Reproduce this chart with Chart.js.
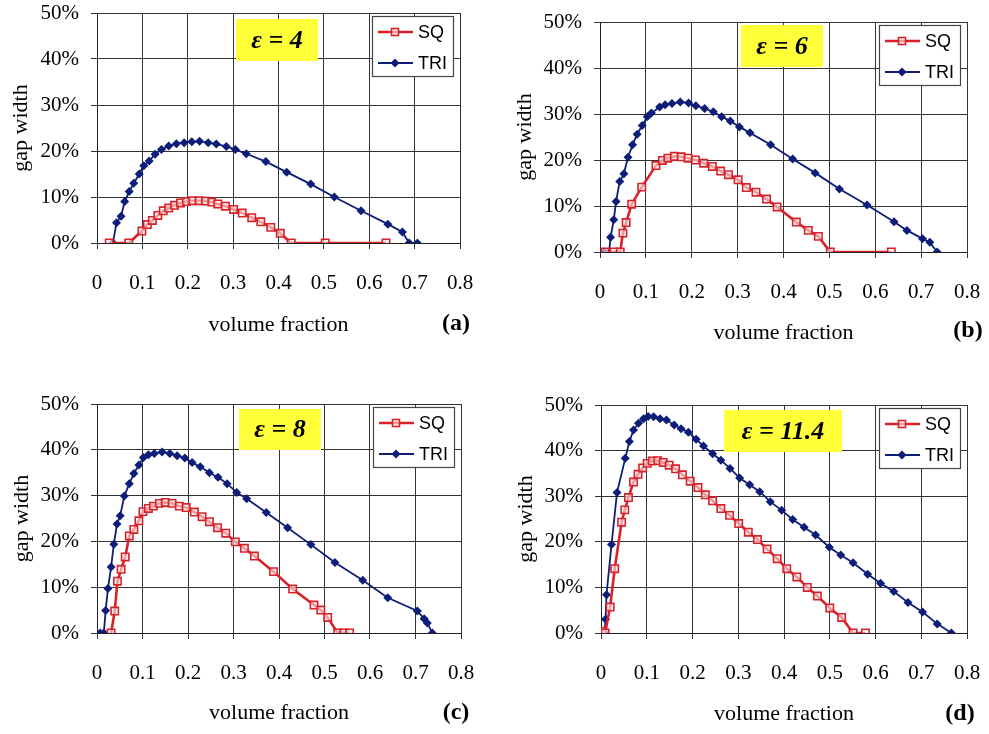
<!DOCTYPE html>
<html>
<head>
<meta charset="utf-8">
<title>gap width vs volume fraction</title>
<script src="https://cdn.jsdelivr.net/npm/chart.js@4/dist/chart.umd.min.js"></script>
<style>
  body { margin: 0; background: #fff; }
  #wrap { position: relative; width: 989px; height: 734px; overflow: hidden; }
  .panel { position: absolute; width: 494px; height: 367px; }
</style>
</head>
<body>
<div id="wrap">
  <div class="panel" style="left:0;top:0"><canvas id="chart-a" width="494" height="367"></canvas></div>
  <div class="panel" style="left:495px;top:0"><canvas id="chart-b" width="494" height="367"></canvas></div>
  <div class="panel" style="left:0;top:367px"><canvas id="chart-c" width="494" height="367"></canvas></div>
  <div class="panel" style="left:495px;top:367px"><canvas id="chart-d" width="494" height="367"></canvas></div>
</div>
<script>
// (a) eps = 4
var sqA_x  = [0.027, 0.070, 0.099, 0.111, 0.122, 0.134, 0.146, 0.158, 0.171, 0.184, 0.197, 0.211, 0.225, 0.239, 0.253, 0.266, 0.283, 0.301, 0.320, 0.341, 0.361, 0.383, 0.404, 0.428, 0.503, 0.637];
var sqA_y  = [0, 0, 2.6, 4.0, 4.9, 6.0, 7.0, 7.6, 8.2, 8.7, 9.0, 9.2, 9.2, 9.1, 8.9, 8.5, 8.0, 7.3, 6.5, 5.5, 4.6, 3.4, 2.1, 0, 0, 0];
var triA_x = [0.035, 0.043, 0.053, 0.061, 0.071, 0.081, 0.093, 0.103, 0.115, 0.128, 0.142, 0.158, 0.175, 0.192, 0.209, 0.226, 0.245, 0.263, 0.285, 0.305, 0.329, 0.372, 0.418, 0.471, 0.523, 0.582, 0.641, 0.673, 0.688, 0.706];
var triA_y = [0, 4.4, 5.8, 9.0, 11.2, 13.0, 15.0, 16.8, 17.8, 19.3, 20.3, 21.1, 21.6, 21.8, 22.0, 22.1, 21.8, 21.5, 21.0, 20.3, 19.4, 17.7, 15.4, 12.8, 10.0, 7.0, 4.1, 2.4, 0, 0];

// (b) eps = 6
var sqB_x  = [0.011, 0.030, 0.044, 0.050, 0.057, 0.069, 0.091, 0.122, 0.136, 0.148, 0.162, 0.177, 0.192, 0.208, 0.226, 0.245, 0.263, 0.280, 0.301, 0.319, 0.340, 0.363, 0.386, 0.428, 0.454, 0.476, 0.502, 0.635];
var sqB_y  = [0, 0, 0, 4.1, 6.4, 10.4, 14.1, 18.8, 19.9, 20.4, 20.8, 20.7, 20.4, 20.0, 19.3, 18.6, 17.6, 16.8, 15.7, 14.0, 13.0, 11.5, 9.8, 6.5, 4.7, 3.4, 0, 0];
var triB_x = [0.009, 0.020, 0.023, 0.030, 0.035, 0.043, 0.052, 0.061, 0.071, 0.081, 0.092, 0.103, 0.112, 0.130, 0.142, 0.157, 0.175, 0.193, 0.209, 0.228, 0.247, 0.265, 0.284, 0.304, 0.327, 0.372, 0.420, 0.469, 0.522, 0.582, 0.641, 0.669, 0.703, 0.719, 0.735];
var triB_y = [0, 0, 3.2, 7.0, 11.0, 15.3, 17.0, 20.6, 23.3, 25.6, 27.5, 29.4, 30.2, 31.5, 32.0, 32.3, 32.6, 32.4, 31.8, 31.2, 30.5, 29.4, 28.5, 27.2, 25.9, 23.3, 20.2, 17.2, 13.7, 10.2, 6.6, 4.7, 2.9, 2.1, 0];

// (c) eps = 8
var sqC_x  = [0.031, 0.039, 0.045, 0.053, 0.062, 0.071, 0.081, 0.092, 0.101, 0.113, 0.124, 0.137, 0.150, 0.165, 0.181, 0.196, 0.214, 0.231, 0.247, 0.265, 0.283, 0.304, 0.324, 0.346, 0.388, 0.430, 0.477, 0.492, 0.507, 0.529, 0.542, 0.555];
var sqC_y  = [0, 4.8, 11.3, 13.9, 16.6, 21.2, 22.6, 24.5, 26.5, 27.2, 27.7, 28.3, 28.5, 28.3, 27.7, 27.4, 26.4, 25.4, 24.3, 23.0, 21.8, 19.9, 18.5, 16.8, 13.4, 9.6, 6.1, 5.0, 3.4, 0, 0, 0];
var triC_x = [0.007, 0.015, 0.019, 0.024, 0.031, 0.037, 0.044, 0.051, 0.060, 0.071, 0.081, 0.092, 0.102, 0.113, 0.126, 0.143, 0.160, 0.176, 0.193, 0.209, 0.227, 0.247, 0.266, 0.286, 0.307, 0.329, 0.372, 0.419, 0.470, 0.523, 0.584, 0.639, 0.704, 0.719, 0.726, 0.737];
var triC_y = [0, 0, 4.9, 9.7, 14.4, 19.4, 23.8, 25.6, 29.9, 32.6, 34.8, 36.7, 38.3, 38.9, 39.2, 39.5, 39.2, 38.7, 38.2, 37.2, 36.3, 35.0, 34.0, 32.6, 30.7, 29.3, 26.3, 23.0, 19.3, 15.4, 11.5, 7.7, 4.8, 3.1, 2.2, 0];

// (d) eps = 11.4
var sqD_x  = [0.002, 0.009, 0.020, 0.030, 0.045, 0.052, 0.060, 0.071, 0.081, 0.091, 0.101, 0.112, 0.124, 0.136, 0.149, 0.163, 0.178, 0.195, 0.212, 0.228, 0.244, 0.262, 0.281, 0.301, 0.322, 0.342, 0.363, 0.385, 0.406, 0.428, 0.451, 0.473, 0.500, 0.526, 0.551, 0.578];
var sqD_y  = [0.4, 0, 5.7, 14.1, 24.3, 27.0, 29.7, 33.1, 34.8, 36.2, 37.2, 37.7, 37.8, 37.4, 36.8, 36.0, 34.7, 33.3, 31.9, 30.3, 29.0, 27.3, 25.8, 24.0, 22.1, 20.5, 18.4, 16.3, 14.1, 12.3, 10.0, 8.1, 5.5, 3.4, 0, 0];
var triD_x = [0.002, 0.008, 0.010, 0.012, 0.023, 0.035, 0.053, 0.062, 0.071, 0.082, 0.093, 0.103, 0.115, 0.129, 0.143, 0.160, 0.175, 0.191, 0.208, 0.224, 0.244, 0.262, 0.282, 0.303, 0.325, 0.347, 0.370, 0.395, 0.419, 0.444, 0.469, 0.499, 0.524, 0.551, 0.583, 0.611, 0.640, 0.671, 0.703, 0.735, 0.766];
var triD_y = [0, 0, 3.0, 8.4, 19.4, 30.8, 38.3, 42.0, 44.5, 46.0, 47.0, 47.5, 47.4, 47.0, 46.7, 45.6, 44.8, 44.0, 42.5, 41.0, 39.3, 37.9, 36.1, 34.0, 32.5, 31.0, 28.8, 26.9, 24.9, 23.2, 21.5, 18.8, 17.1, 15.4, 12.9, 10.9, 9.1, 6.7, 4.6, 2.0, 0];

var seriesNames = ['SQ', 'TRI'];
var epsLabels = ['ε = 4', 'ε = 6', 'ε = 8', 'ε = 11.4'];
var panelLetters = ['(a)', '(b)', '(c)', '(d)'];

var colors = {
    sq: '#D8222A',
    tri: '#0E1E78',
    grid: '#333333',
    yellow: '#FFFF3A'
};

var serif = '"Liberation Serif", "Times New Roman", serif';
var sans = '"Liberation Sans", Arial, sans-serif';

function toPoints(xs, ys) {
    return xs.map(function(x, i) { return { x: x, y: ys[i] }; });
}

// draws the eps box, legend and panel letter
var decoPlugin = {
    id: 'deco',
    afterDraw: function(chart, args, opts) {
        var ctx = chart.ctx, area = chart.chartArea;
        ctx.save();

        var e = opts.epsBox;
        ctx.fillStyle = colors.yellow;
        ctx.fillRect(area.left + e[0], area.top + e[1], e[2], e[3]);
        ctx.fillStyle = '#000';
        ctx.font = 'italic bold 26px ' + serif;
        ctx.textAlign = 'center';
        ctx.textBaseline = 'middle';
        ctx.fillText(opts.eps, area.left + e[0] + e[2] / 2, area.top + e[1] + e[3] / 2 + 1);

        var lx = area.right - 88, ly = area.top + 3;
        ctx.fillStyle = '#fff';
        ctx.fillRect(lx, ly, 81, 60);
        ctx.strokeStyle = '#444';
        ctx.lineWidth = 1.2;
        ctx.strokeRect(lx + 0.5, ly + 0.5, 81, 60);

        chart.data.datasets.forEach(function(ds, i) {
            var y = ly + 16 + i * 31;
            var cx = lx + 23;
            ctx.strokeStyle = ds.borderColor;
            ctx.lineWidth = ds.borderWidth;
            ctx.beginPath();
            ctx.moveTo(lx + 6, y);
            ctx.lineTo(lx + 41, y);
            ctx.stroke();
            if (ds.pointStyle === 'rect') {
                ctx.fillStyle = ds.pointBackgroundColor;
                ctx.fillRect(cx - 3.5, y - 3.5, 7, 7);
                ctx.lineWidth = ds.pointBorderWidth;
                ctx.strokeRect(cx - 3.5, y - 3.5, 7, 7);
            } else {
                ctx.fillStyle = ds.borderColor;
                ctx.beginPath();
                ctx.moveTo(cx, y - 4.5);
                ctx.lineTo(cx + 4.5, y);
                ctx.lineTo(cx, y + 4.5);
                ctx.lineTo(cx - 4.5, y);
                ctx.closePath();
                ctx.fill();
            }
            ctx.fillStyle = '#000';
            ctx.font = '18px ' + sans;
            ctx.textAlign = 'left';
            ctx.textBaseline = 'middle';
            ctx.fillText(ds.label, lx + 46, y + 1);
        });

        ctx.fillStyle = '#000';
        ctx.font = 'bold 24px ' + serif;
        ctx.textAlign = 'center';
        ctx.textBaseline = 'middle';
        ctx.fillText(opts.letter, opts.letterX, opts.letterY);
        ctx.restore();
    }
};

var panels = [
    { id: 'chart-a', sq: [sqA_x, sqA_y], tri: [triA_x, triA_y], plot: { l: 97, t: 13, r: 460, b: 243 },
      yTitleX: 21, xTitleY: 325, letterX: 456, letterY: 324, epsBox: [139, 6, 82, 42] },
    { id: 'chart-b', sq: [sqB_x, sqB_y], tri: [triB_x, triB_y], plot: { l: 105, t: 22, r: 472, b: 252 },
      yTitleX: 30, xTitleY: 333, letterX: 473, letterY: 331, epsBox: [141, 3, 82, 42] },
    { id: 'chart-c', sq: [sqC_x, sqC_y], tri: [triC_x, triC_y], plot: { l: 97, t: 37, r: 461, b: 266 },
      yTitleX: 22, xTitleY: 346, letterX: 456, letterY: 346, epsBox: [142, 5, 82, 41] },
    { id: 'chart-d', sq: [sqD_x, sqD_y], tri: [triD_x, triD_y], plot: { l: 106, t: 38, r: 472, b: 266 },
      yTitleX: 31, xTitleY: 347, letterX: 465, letterY: 347, epsBox: [123, 5, 118, 42] }
];

var W = 494, H = 367;

panels.forEach(function(p, k) {
    var ctx = document.getElementById(p.id);
    new Chart(ctx, {
        type: 'scatter',
        data: {
            datasets: [{
                label: seriesNames[0],
                data: toPoints(p.sq[0], p.sq[1]),
                showLine: true,
                borderColor: colors.sq,
                backgroundColor: colors.sq,
                borderWidth: 2.6,
                pointStyle: 'rect',
                pointRadius: 5.2,
                pointBorderWidth: 1.6,
                pointBorderColor: colors.sq,
                pointBackgroundColor: 'rgba(255,235,235,0.6)'
            }, {
                label: seriesNames[1],
                data: toPoints(p.tri[0], p.tri[1]),
                showLine: true,
                borderColor: colors.tri,
                backgroundColor: colors.tri,
                borderWidth: 1.8,
                pointStyle: 'rectRot',
                pointRadius: 4.5,
                pointBorderWidth: 0,
                pointBackgroundColor: colors.tri
            }]
        },
        options: {
            responsive: false,
            animation: false,
            layout: { padding: { left: 0, top: p.plot.t, right: W - p.plot.r, bottom: 0 } },
            scales: {
                x: {
                    type: 'linear',
                    min: 0,
                    max: 0.8,
                    afterFit: function(s) {
                        s.height = H - p.plot.b;
                        s.paddingLeft = 0;
                        s.paddingRight = 0;
                    },
                    ticks: {
                        stepSize: 0.1,
                        padding: 22,
                        color: '#000',
                        font: { family: serif, size: 21 },
                        callback: function(v) { return v === 0 ? '0' : v.toFixed(1); }
                    },
                    grid: { color: colors.grid, lineWidth: 1, tickLength: 6 },
                    border: { color: '#222', width: 1 },
                    title: {
                        display: true,
                        text: 'volume fraction',
                        color: '#000',
                        font: { family: serif, size: 22 },
                        padding: { top: 0, bottom: H - 13.2 - p.xTitleY }
                    }
                },
                y: {
                    min: 0,
                    max: 50,
                    afterFit: function(s) {
                        s.width = p.plot.l;
                        s.paddingTop = 0;
                        s.paddingBottom = 0;
                    },
                    ticks: {
                        stepSize: 10,
                        padding: 12,
                        color: '#000',
                        font: { family: serif, size: 21 },
                        callback: function(v) { return v + '%'; }
                    },
                    grid: { color: colors.grid, lineWidth: 1, tickLength: 6 },
                    border: { color: '#222', width: 1 },
                    title: {
                        display: true,
                        text: 'gap width',
                        color: '#000',
                        font: { family: serif, size: 22 },
                        padding: { top: p.yTitleX - 13.2, bottom: 0 }
                    }
                }
            },
            plugins: {
                legend: { display: false },
                tooltip: { enabled: false },
                deco: {
                    eps: epsLabels[k],
                    letter: panelLetters[k],
                    letterX: p.letterX,
                    letterY: p.letterY,
                    epsBox: p.epsBox
                }
            }
        },
        plugins: [decoPlugin]
    });
});
</script>
</body>
</html>
